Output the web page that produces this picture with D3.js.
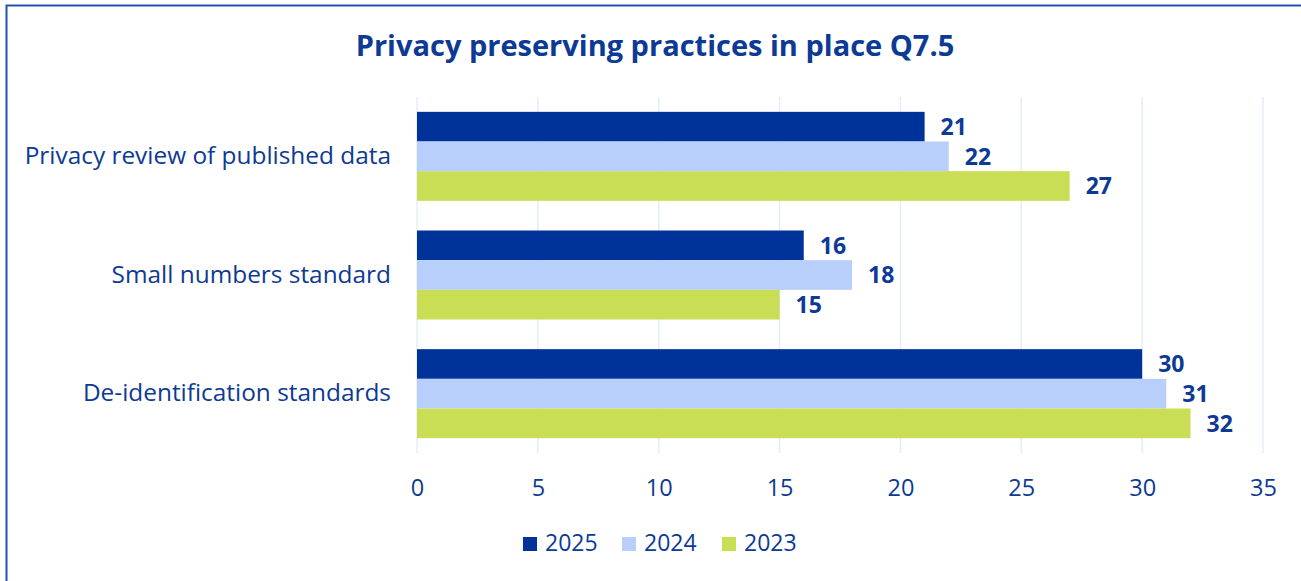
<!DOCTYPE html>
<html>
<head>
<meta charset="utf-8">
<script src="https://cdn.jsdelivr.net/npm/d3@7"></script>
<style>
  html, body { margin: 0; padding: 0; background: #fff; }
  svg { display: block; }
</style>
</head>
<body>
<svg id="chart" width="1301" height="581"></svg>
<script>
// Survey question Q7.5: privacy preserving practices in place
const categories = ["Privacy review of published data", "Small numbers standard", "De-identification standards"];
const years = ["2025", "2024", "2023"];
const values2025 = [21, 16, 30];
const values2024 = [22, 18, 31];
const values2023 = [27, 15, 32];
const xTicks = [0, 5, 10, 15, 20, 25, 30, 35];

const seriesValues = { "2025": values2025, "2024": values2024, "2023": values2023 };
const colors = { "2025": "#003399", "2024": "#b8cffc", "2023": "#c9dd55" };
const textColor = "#0d3a94";
const font = "'Open Sans', 'Liberation Sans', sans-serif";

const svg = d3.select("#chart");
const W = 1301, H = 581;

// Frame around the chart
svg.append("rect")
  .attr("x", 6.5).attr("y", 5.5)
  .attr("width", W + 20).attr("height", H + 20)
  .attr("fill", "none").attr("stroke", "#2150b4").attr("stroke-width", 2);

// Title
svg.append("text")
  .attr("x", 655).attr("y", 56)
  .attr("text-anchor", "middle")
  .attr("font-family", font).attr("font-weight", 700)
  .attr("font-size", 29).attr("fill", textColor)
  .text("Privacy preserving practices in place Q7.5");

const plot = { left: 417, right: 1263, top: 97, bottom: 453 };

const x = d3.scaleLinear().domain([0, 35]).range([plot.left, plot.right]);
const y = d3.scaleBand().domain(categories).range([plot.top, plot.bottom]).paddingInner(0.25).paddingOuter(0.125);
const yInner = d3.scaleBand().domain(years).range([0, y.bandwidth()]);

// Vertical gridlines
svg.append("g")
  .selectAll("line").data(xTicks).join("line")
  .attr("x1", d => x(d)).attr("x2", d => x(d))
  .attr("y1", plot.top).attr("y2", plot.bottom)
  .attr("stroke", "#e6ecf8").attr("stroke-width", 1.5);

// X axis labels
const xAxis = d3.axisBottom(x).tickValues(xTicks).tickSize(0).tickPadding(0);
const gx = svg.append("g").attr("transform", `translate(0,${plot.bottom + 26})`).call(xAxis);
gx.select(".domain").remove();
gx.selectAll("text")
  .attr("font-family", font).attr("font-size", 23.5).attr("fill", textColor);

// Category labels
const yAxis = d3.axisLeft(y).tickSize(0).tickPadding(26);
const gy = svg.append("g").attr("transform", `translate(${plot.left},0)`).call(yAxis);
gy.select(".domain").remove();
gy.selectAll("text")
  .attr("font-family", font).attr("font-size", 24.4).attr("fill", textColor);

// Bars and value labels
const groups = svg.append("g").selectAll("g").data(categories).join("g")
  .attr("transform", d => `translate(0,${y(d)})`);

years.forEach(yr => {
  groups.append("rect")
    .attr("x", x(0))
    .attr("y", yInner(yr))
    .attr("width", (d, i) => x(seriesValues[yr][i]) - x(0))
    .attr("height", yInner.bandwidth())
    .attr("fill", colors[yr]);
  groups.append("text")
    .attr("x", (d, i) => x(seriesValues[yr][i]) + 16)
    .attr("y", yInner(yr) + yInner.bandwidth() / 2)
    .attr("dy", "0.36em")
    .attr("font-family", font).attr("font-weight", 700)
    .attr("font-size", 23).attr("fill", textColor)
    .text((d, i) => seriesValues[yr][i]);
});

// Legend
const legendItems = [
  { key: "2025", x: 523 },
  { key: "2024", x: 622 },
  { key: "2023", x: 722 }
];
const lg = svg.append("g").selectAll("g").data(legendItems).join("g")
  .attr("transform", d => `translate(${d.x},544)`);
lg.append("rect")
  .attr("x", 0).attr("y", -7).attr("width", 14).attr("height", 14)
  .attr("fill", d => colors[d.key]);
lg.append("text")
  .attr("x", 22).attr("y", -1.5).attr("dy", "0.36em")
  .attr("font-family", font).attr("font-size", 23).attr("fill", textColor)
  .text(d => d.key);
</script>
</body>
</html>
